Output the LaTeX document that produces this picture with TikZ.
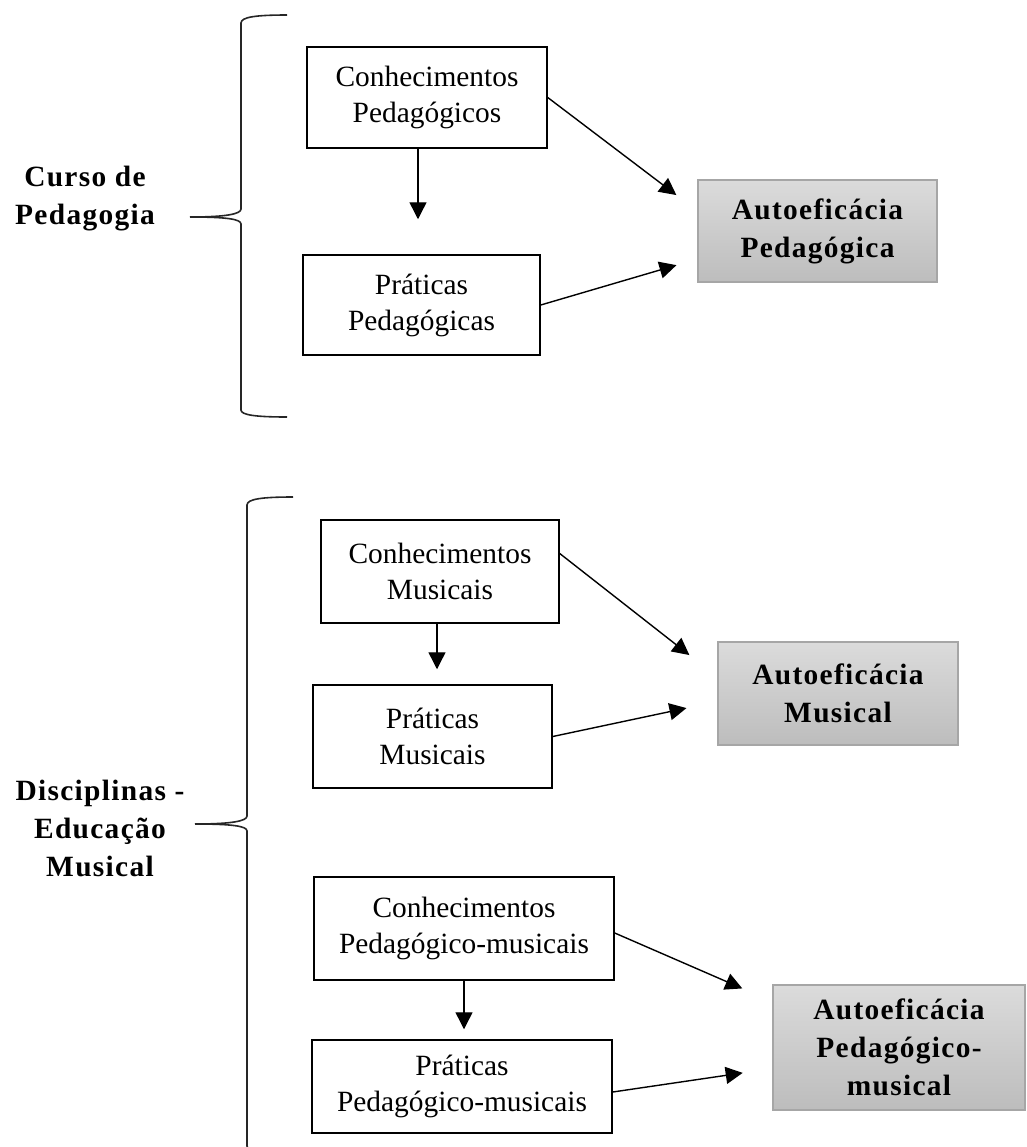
\documentclass[tikz,border=0pt]{standalone}
\usepackage{fontspec}
\setmainfont{Liberation Serif}
\newfontfamily\spacedfont[LetterSpace=4.5]{Liberation Serif}
\usepackage{tikz}
\usetikzlibrary{arrows.meta}

\begin{document}
\begin{tikzpicture}[
  x=0.5pt, y=-0.5pt,
  flowbox/.style={draw, line width=0.75pt, inner sep=0pt, align=center, font=\fontsize{14.7}{18}\selectfont},
  selfbox/.style={draw=black!35, line width=0.6pt, top color=gray!28, bottom color=gray!52, inner sep=0pt, align=center, font=\spacedfont\bfseries\fontsize{14.7}{19}\selectfont},
  grouplabel/.style={align=center, font=\spacedfont\bfseries\fontsize{14.7}{19}\selectfont},
  brace/.style={line width=0.8pt, black!85},
  arr/.style={-{Triangle[length=8.5pt, width=8.5pt]}, line width=0.7pt}
]
  \useasboundingbox (0,0) rectangle (1027,1147);
  \clip (0,0) rectangle (1027,1147);

  \node[grouplabel] (curso) at (85,199) {Curso de\\Pedagogia};
  \node[grouplabel] (disc) at (100,828) {Disciplinas -\\Educação\\Musical};

  \draw[brace] (287,15) .. controls (256,15) and (241,17) .. (241,23) -- (241,209)
    .. controls (241,214) and (226,217) .. (190,217)
    .. controls (226,217) and (241,219) .. (241,224) -- (241,410)
    .. controls (241,415) and (256,417) .. (287,417);
  \draw[brace] (293,497) .. controls (262,497) and (247,499) .. (247,505) -- (247,816)
    .. controls (247,821) and (232,824) .. (195,824)
    .. controls (232,824) and (247,826) .. (247,831) -- (247,1146)
    .. controls (247,1151) and (262,1153) .. (293,1153);

  \node[flowbox, minimum width=120pt, minimum height=50.5pt] (conPed) at (427,97.5) {Conhecimentos\\Pedagógicos};
  \node[flowbox, minimum width=118.5pt, minimum height=50pt] (praPed) at (421.5,305) {Práticas\\Pedagógicas};
  \node[selfbox, minimum width=119.5pt, minimum height=51pt] (autoPed) at (817.5,231) {Autoeficácia\\Pedagógica};

  \node[flowbox, minimum width=119pt, minimum height=51.5pt] (conMus) at (440,571.5) {Conhecimentos\\Musicais};
  \node[flowbox, minimum width=119.5pt, minimum height=51.5pt] (praMus) at (432.5,736.5) {Práticas\\Musicais};
  \node[selfbox, minimum width=120pt, minimum height=51.5pt] (autoMus) at (838,693.5) {Autoeficácia\\Musical};

  \node[flowbox, minimum width=150pt, minimum height=51.5pt] (conPM) at (464,928.5) {Conhecimentos\\Pedagógico-musicais};
  \node[flowbox, minimum width=150pt, minimum height=46.5pt] (praPM) at (462,1086.5) {Práticas\\Pedagógico-musicais};
  \node[selfbox, minimum width=126pt, minimum height=62.5pt] (autoPM) at (899,1047.5) {Autoeficácia\\Pedagógico-\\musical};

  \draw[arr, shorten >=17.5pt] ([xshift=-4.5pt]conPed.south) -- ([xshift=-4.5pt]conPed.south |- praPed.north);
  \draw[arr, shorten >=13.2pt] (conPed.east) -- ([yshift=10pt]autoPed.west);
  \draw[arr, shorten >=10.9pt] (praPed.east) -- ([yshift=-14pt]autoPed.west);

  \draw[arr, shorten >=7.5pt] ([xshift=-1.5pt]conMus.south) -- ([xshift=-1.5pt]conMus.south |- praMus.north);
  \draw[arr, shorten >=17.8pt] ([yshift=9pt]conMus.east) -- ([yshift=8.25pt]autoMus.west);
  \draw[arr, shorten >=15.8pt] (praMus.east) -- ([yshift=-4pt]autoMus.west);

  \draw[arr, shorten >=5pt] (conPM.south) -- (conPM.south |- praPM.north);
  \draw[arr, shorten >=16.4pt] ([yshift=-2.25pt]conPM.east) -- ([yshift=23pt]autoPM.west);
  \draw[arr, shorten >=15pt] ([yshift=-2.75pt]praPM.east) -- ([yshift=-10.5pt]autoPM.west);
\end{tikzpicture}
\end{document}
